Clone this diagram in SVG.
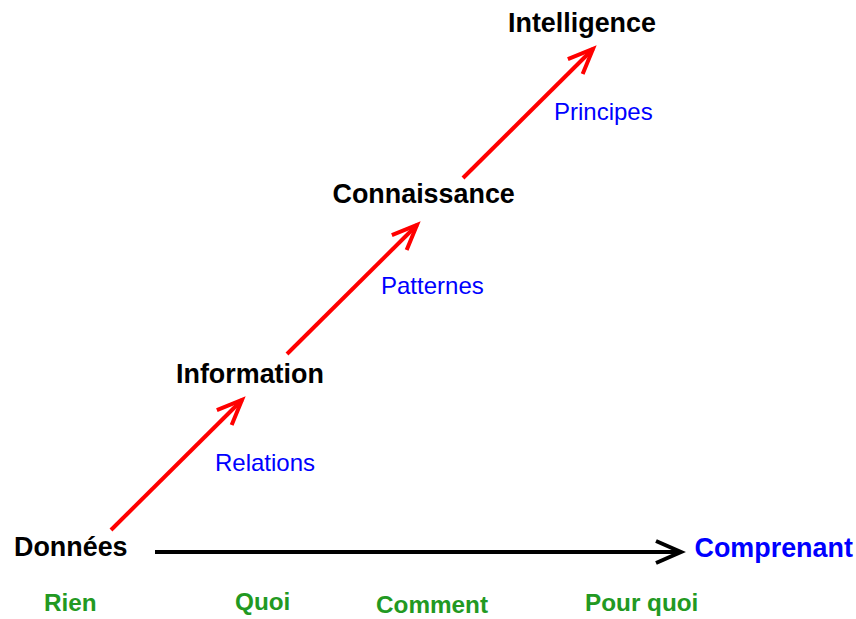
<svg xmlns="http://www.w3.org/2000/svg" width="856" height="619" viewBox="0 0 856 619">
  <defs>
    <marker id="redHead" markerUnits="userSpaceOnUse" markerWidth="40" markerHeight="40" viewBox="-30 -20 40 40" refX="0" refY="0" orient="auto">
      <path d="M -25 -10.5 L 0 0 L -25 10.5" fill="none" stroke="#ff0000" stroke-width="4" stroke-linejoin="miter"/>
    </marker>
    <marker id="blackHead" markerUnits="userSpaceOnUse" markerWidth="40" markerHeight="40" viewBox="-30 -20 40 40" refX="0" refY="0" orient="auto">
      <path d="M -25 -11 L 0 0 L -25 11" fill="none" stroke="#000000" stroke-width="4" stroke-linejoin="miter"/>
    </marker>
  </defs>
  <style>
    text { font-family: "Liberation Sans", Arial, Helvetica, sans-serif; }
    .node { font-weight: bold; font-size: 26.9px; fill: #000000; }
    .goal { font-weight: bold; font-size: 26.9px; fill: #0000ff; }
    .rel { font-size: 24px; fill: #0000ff; }
    .q { font-weight: bold; font-size: 24.3px; fill: #229922; }
    .red { stroke: #ff0000; stroke-width: 4; fill: none; marker-end: url(#redHead); }
    .blk { stroke: #000000; stroke-width: 4; fill: none; marker-end: url(#blackHead); }
  </style>
  <rect width="856" height="619" fill="#ffffff"/>

  <g id="connectors">
    <line class="red" x1="111" y1="530" x2="242" y2="400"/>
    <line class="red" x1="287" y1="354" x2="417" y2="225"/>
    <line class="red" x1="463" y1="178" x2="593" y2="49"/>
    <line class="blk" x1="155" y1="552" x2="681" y2="552"/>
  </g>

  <g id="donnees"><text class="node" x="14" y="556">Données</text></g>
  <g id="information"><text class="node" x="176" y="383">Information</text></g>
  <g id="connaissance"><text class="node" x="332.5" y="203">Connaissance</text></g>
  <g id="intelligence"><text class="node" x="508" y="32">Intelligence</text></g>
  <g id="comprenant"><text class="goal" x="694.5" y="557">Comprenant</text></g>

  <g id="label-relations"><text class="rel" x="215" y="471">Relations</text></g>
  <g id="label-patternes"><text class="rel" x="381" y="294">Patternes</text></g>
  <g id="label-principes"><text class="rel" x="554" y="120">Principes</text></g>

  <g id="q-rien"><text class="q" x="44" y="611">Rien</text></g>
  <g id="q-quoi"><text class="q" x="235" y="610">Quoi</text></g>
  <g id="q-comment"><text class="q" x="376" y="613">Comment</text></g>
  <g id="q-pourquoi"><text class="q" x="585" y="611">Pour quoi</text></g>
</svg>
